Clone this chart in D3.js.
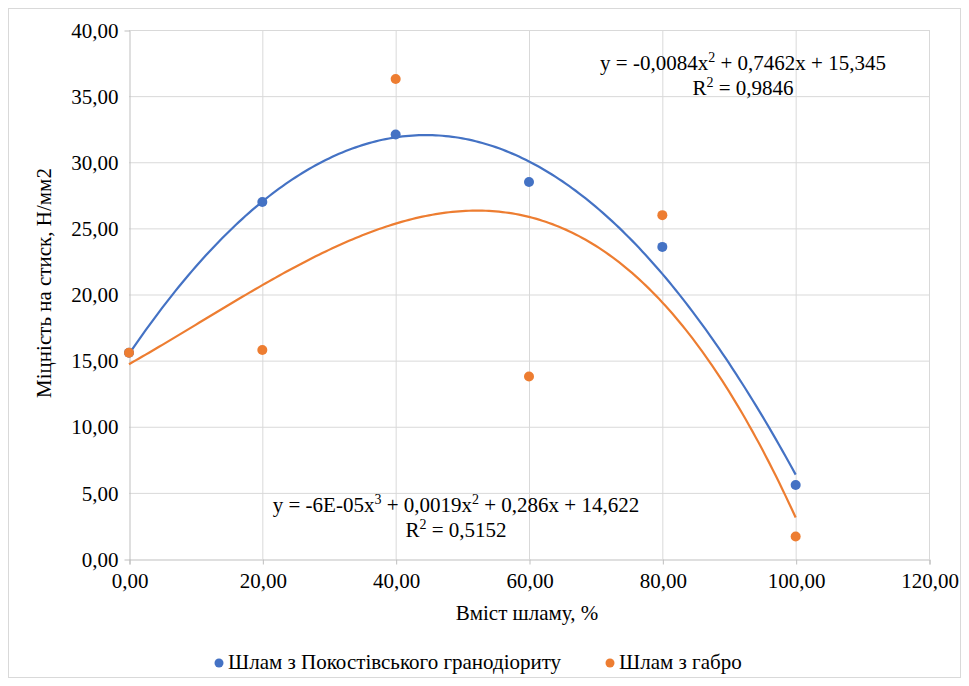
<!DOCTYPE html>
<html><head><meta charset="utf-8">
<script src="https://cdn.jsdelivr.net/npm/d3@7"></script>
</head><body style="margin:0">
<svg id="c" width="969" height="686" style="display:block"></svg>
<script>
const xValues = [0, 20, 40, 60, 80, 100];
const seriesNames = ["Шлам з Покостівського гранодіориту", "Шлам з габро"];
const granodiorite = [15.6, 27.0, 32.1, 28.5, 23.6, 5.6];
const gabbro = [15.6, 15.8, 36.3, 13.8, 26.0, 1.7];
const xTicks = [0, 20, 40, 60, 80, 100, 120];
const yTicks = [0, 5, 10, 15, 20, 25, 30, 35, 40];
const eq1 = ["y = -0,0084x", "2", " + 0,7462x + 15,345"];
const r1 = "0,9846";
const eq2 = ["y = -6E-05x", "3", " + 0,0019x", "2", " + 0,286x + 14,622"];
const r2 = "0,5152";
const colors = ["#4472C4", "#ED7D31"];

const FF = '"Liberation Serif"';
const svg = d3.select("#c");
svg.append("rect").attr("x", 8.5).attr("y", 8.5).attr("width", 952).attr("height", 669)
  .attr("fill", "#fff").attr("stroke", "#d9d9d9");

const x = d3.scaleLinear().domain([0, 120]).range([129, 929]);
const y = d3.scaleLinear().domain([0, 40]).range([559, 30]);
const fmt = d => d3.format(".2f")(d).replace(".", ",");

svg.append("g").selectAll("line").data(yTicks.slice(1)).join("line")
  .attr("x1", x(0)).attr("x2", x(120)).attr("y1", d => y(d) + 0.5).attr("y2", d => y(d) + 0.5)
  .attr("stroke", "#d9d9d9");
svg.append("g").selectAll("line").data(xTicks.slice(1)).join("line")
  .attr("y1", y(0)).attr("y2", y(40)).attr("x1", d => x(d) + 0.5).attr("x2", d => x(d) + 0.5)
  .attr("stroke", "#d9d9d9");

const xa = svg.append("g").attr("transform", `translate(0.5,${y(0) + 0.5})`)
  .call(d3.axisBottom(x).tickValues(xTicks).tickFormat(fmt).tickSize(5).tickPadding(6));
const ya = svg.append("g").attr("transform", `translate(${x(0) + 0.5},0.5)`)
  .call(d3.axisLeft(y).tickValues(yTicks).tickFormat(fmt).tickSize(5).tickPadding(6));
[xa, ya].forEach(a => {
  a.attr("font-family", null).attr("font-size", null);
  a.select(".domain").attr("stroke", "#bfbfbf");
  a.selectAll(".tick line").attr("stroke", "#bfbfbf");
  a.selectAll("text").style("font-family", FF).attr("font-size", 21).attr("fill", "#000");
});
ya.selectAll(".tick line").remove();
xa.selectAll(".tick text").attr("dy", "0.85em");

svg.append("text").attr("x", 527).attr("y", 620).attr("text-anchor", "middle")
  .style("font-family", FF).attr("font-size", 21).text("Вміст шламу, %");
svg.append("text").attr("transform", "translate(51,283) rotate(-90)").attr("text-anchor", "middle")
  .style("font-family", FF).attr("font-size", 21).text("Міцність на стиск, Н/мм2");

function polyfit(xs, ys, deg) {
  const n = deg + 1;
  const A = Array.from({length: n}, () => new Array(n + 1).fill(0));
  for (let i = 0; i < n; i++) {
    for (let j = 0; j < n; j++) A[i][j] = d3.sum(xs, xv => Math.pow(xv, i + j));
    A[i][n] = d3.sum(xs, (xv, k) => ys[k] * Math.pow(xv, i));
  }
  for (let i = 0; i < n; i++) {
    let p = i;
    for (let r = i + 1; r < n; r++) if (Math.abs(A[r][i]) > Math.abs(A[p][i])) p = r;
    [A[i], A[p]] = [A[p], A[i]];
    for (let r = 0; r < n; r++) if (r !== i) {
      const f = A[r][i] / A[i][i];
      for (let c = i; c <= n; c++) A[r][c] -= f * A[i][c];
    }
  }
  return A.map((row, i) => row[n] / row[i]);
}
const evalP = (c, xv) => c.reduce((s, a, i) => s + a * Math.pow(xv, i), 0);

const series = [granodiorite, gabbro];
const degs = [2, 3];
const line = d3.line().x(d => x(d[0])).y(d => y(d[1]));
series.forEach((s, i) => {
  const c = polyfit(xValues, s, degs[i]);
  const pts = d3.range(0, 100.001, 0.5).map(xv => [xv, evalP(c, xv)]);
  svg.append("path").attr("d", line(pts)).attr("fill", "none")
    .attr("stroke", colors[i]).attr("stroke-width", 2.2);
});
series.forEach((s, i) => {
  svg.append("g").selectAll("circle").data(s).join("circle")
    .attr("cx", (d, k) => x(xValues[k])).attr("cy", d => y(d)).attr("r", 5)
    .attr("fill", colors[i]);
});

function eqText(parts, cx, cy, r) {
  const t = svg.append("text").attr("x", cx).attr("y", cy).attr("text-anchor", "middle")
    .style("font-family", FF).attr("font-size", 21);
  parts.forEach((p, k) => {
    if (k % 2 === 1) t.append("tspan").attr("font-size", 14).attr("dy", -8).text(p);
    else t.append("tspan").attr("dy", k ? 8 : 0).text(p);
  });
  const t2 = svg.append("text").attr("x", cx).attr("y", cy + 25).attr("text-anchor", "middle")
    .style("font-family", FF).attr("font-size", 21);
  t2.append("tspan").text("R");
  t2.append("tspan").attr("font-size", 14).attr("dy", -8).text("2");
  t2.append("tspan").attr("dy", 8).text(" = " + r);
}
eqText(eq1, 743, 70, r1);
eqText(eq2, 456, 512, r2);

const leg = [{x: 219, name: seriesNames[0]}, {x: 610, name: seriesNames[1]}];
leg.forEach((l, i) => {
  svg.append("circle").attr("cx", l.x).attr("cy", 663).attr("r", 4.5).attr("fill", colors[i]);
  svg.append("text").attr("x", l.x + 9).attr("y", 669).style("font-family", FF)
    .attr("font-size", 21).text(l.name);
});
</script>
</body></html>
